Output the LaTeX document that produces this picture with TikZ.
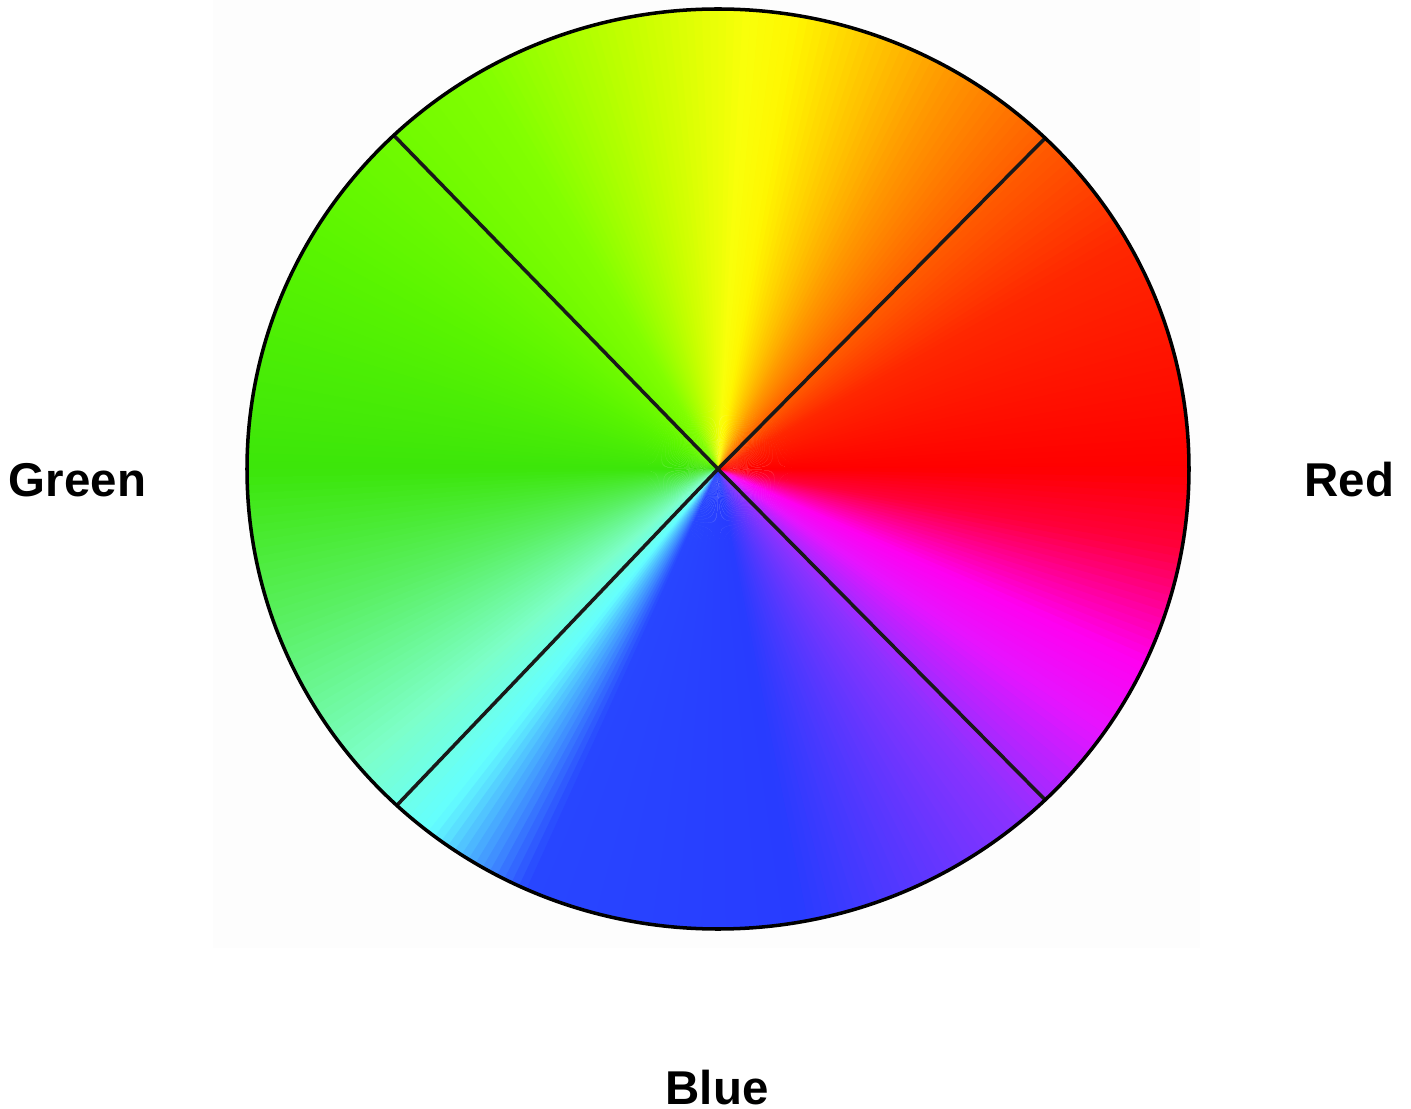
\documentclass[tikz,border=0pt]{standalone}
\usepackage{fontspec}
\setmainfont{Liberation Sans}
\usetikzlibrary{calc}

% hue key colours of the wheel (angle in degrees)
\definecolor{h000}{RGB}{255,0,0}
\definecolor{h030}{RGB}{255,40,0}
\definecolor{h045}{RGB}{255,90,0}
\definecolor{h060}{RGB}{255,150,0}
\definecolor{h080}{RGB}{255,245,0}
\definecolor{h086}{RGB}{250,255,10}
\definecolor{h100}{RGB}{200,255,0}
\definecolor{h120}{RGB}{130,255,0}
\definecolor{h150}{RGB}{90,245,0}
\definecolor{h180}{RGB}{60,230,10}
\definecolor{h200}{RGB}{90,240,100}
\definecolor{h220}{RGB}{125,255,200}
\definecolor{h232}{RGB}{100,255,255}
\definecolor{h246}{RGB}{40,70,255}
\definecolor{h280}{RGB}{40,60,255}
\definecolor{h310}{RGB}{140,50,255}
\definecolor{h325}{RGB}{230,20,255}
\definecolor{h335}{RGB}{255,0,240}
\definecolor{h350}{RGB}{255,0,60}
\definecolor{h360}{RGB}{255,0,0}

\def\rx{4.71}
\def\ry{4.60}

\begin{document}
\begin{tikzpicture}[
  rim/.style={draw=black,line width=1pt},
  spoke/.style={draw=black!90,line width=1pt},
  lbl/.style={font=\fontsize{13.5}{16}\selectfont\bfseries,anchor=base,inner sep=0pt}]

 \useasboundingbox (0,0) rectangle (14.11,-11.09);
 \fill[white] (0,0) rectangle (14.11,-11.09);
 \fill[black!0.7] (2.13,0) rectangle (12.00,-9.48);

 % ---- wheel ----
 \begin{scope}[shift={(7.18,-4.69)}]
   \foreach \sa/\ca/\sb/\cb in {0/h000/30/h030, 30/h030/45/h045, 45/h045/60/h060,
       60/h060/80/h080, 80/h080/86/h086, 86/h086/100/h100, 100/h100/120/h120,
       120/h120/150/h150, 150/h150/180/h180, 180/h180/200/h200, 200/h200/220/h220,
       220/h220/232/h232, 232/h232/246/h246, 246/h246/280/h280, 280/h280/310/h310,
       310/h310/325/h325, 325/h325/335/h335, 335/h335/350/h350, 350/h350/360/h360}{
     \pgfmathtruncatemacro\nstep{\sb-\sa}
     \foreach \i in {1,...,\nstep}{
       \pgfmathtruncatemacro\pct{100*(\i-0.5)/\nstep}
       \pgfmathsetmacro\aa{\sa+\i-1}
       \pgfmathsetmacro\ab{\sa+\i+0.4}
       \fill[\cb!\pct!\ca] (0,0) -- (\aa:{\rx} and {\ry})
         arc[start angle=\aa,end angle=\ab,x radius=\rx,y radius=\ry] -- cycle;
     }
   }
   \coordinate (c) at (0,0);
   \coordinate (ne) at (46:{\rx} and {\ry});
   \coordinate (nw) at (133.5:{\rx} and {\ry});
   \coordinate (sw) at (227:{\rx} and {\ry});
   \coordinate (se) at (314:{\rx} and {\ry});
   \draw[spoke] (nw) -- (c) -- (se);
   \draw[spoke] (ne) -- (c) -- (sw);
   \draw[rim] (c) ellipse [x radius=\rx,y radius=\ry];
 \end{scope}

 % ---- labels ----
 \node[lbl] (green) at (0.775,-4.97) {Green};
 \node[lbl] (red) at (13.495,-4.97) {Red};
 \node[lbl] (blue) at (7.17,-11.04) {Blue};
\end{tikzpicture}
\end{document}
